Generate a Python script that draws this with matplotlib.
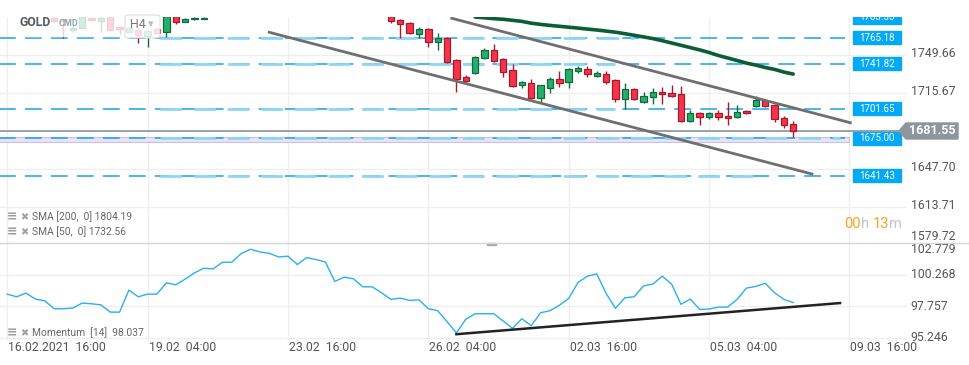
import matplotlib.pyplot as plt
from matplotlib.patches import Rectangle, FancyBboxPatch, Polygon
from matplotlib.lines import Line2D
from matplotlib.transforms import blended_transform_factory

plt.rcParams['font.family'] = ['Roboto', 'DejaVu Sans']

# H4 bars, bar 0 = 16.02.2021 16:00
date_ticks = [0, 15, 30, 45, 60, 75, 90]
date_labels = ['16.02.2021  16:00', '19.02  04:00', '23.02  16:00', '26.02  04:00',
               '02.03  16:00', '05.03  04:00', '09.03  16:00']

# visible candles (the rest sit above the top of the chart)
bars = list(range(5, 22)) + list(range(41, 85))
opens = [1783.00, 1781.92, 1772.06, 1773.85, 1782.81, 1780.13, 1784.50, 1774.75, 1770.27,
         1772.06, 1766.68, 1772.96, 1770.50, 1785.00, 1779.23, 1781.50, 1782.00,
         1785.00, 1781.02, 1778.33, 1768.48, 1772.96, 1761.31, 1764.89, 1745.18, 1729.95,
         1733.53, 1746.97, 1754.14, 1746.08, 1736.22, 1722.78, 1724.57, 1711.13, 1720.09,
         1728.16, 1725.47, 1735.32, 1737.12, 1730.84, 1732.64, 1727.26, 1710.24, 1719.20,
         1707.55, 1712.03, 1716.51, 1715.61, 1714.72, 1690.52, 1697.69, 1694.11, 1697.69,
         1695.00, 1694.11, 1699.48, 1703.96, 1708.44, 1704.86, 1693.21, 1687.84]
highs = [1784.50, 1783.00, 1776.54, 1786.00, 1784.00, 1784.00, 1785.00, 1776.00, 1775.00,
         1773.85, 1772.96, 1773.85, 1786.00, 1786.00, 1782.50, 1784.00, 1784.00,
         1786.00, 1782.00, 1779.00, 1774.75, 1773.85, 1769.37, 1765.79, 1745.90, 1731.74,
         1748.50, 1755.93, 1759.52, 1746.97, 1741.60, 1726.36, 1728.16, 1723.20, 1729.95,
         1735.32, 1738.01, 1739.80, 1739.80, 1735.32, 1735.32, 1728.00, 1724.57, 1719.80,
         1716.51, 1720.09, 1720.99, 1722.78, 1721.88, 1700.38, 1698.30, 1698.59, 1700.38,
         1707.55, 1704.86, 1700.00, 1712.92, 1709.00, 1705.40, 1695.00, 1690.52]
lows = [1779.20, 1764.89, 1770.27, 1773.85, 1780.50, 1770.27, 1771.50, 1768.48, 1769.50,
        1760.41, 1756.83, 1768.48, 1766.00, 1777.44, 1778.80, 1781.00, 1781.50,
        1778.33, 1764.89, 1768.90, 1764.89, 1756.83, 1754.14, 1742.90, 1716.51, 1725.90,
        1733.00, 1746.50, 1743.39, 1729.95, 1720.99, 1720.09, 1710.24, 1707.55, 1715.61,
        1720.99, 1720.09, 1733.53, 1729.95, 1729.95, 1723.68, 1707.55, 1701.28, 1709.70,
        1707.00, 1705.76, 1705.76, 1712.03, 1690.00, 1690.00, 1686.94, 1692.32, 1691.42,
        1686.94, 1693.60, 1697.20, 1703.50, 1703.50, 1689.63, 1684.25, 1676.19]
closes = [1780.13, 1780.13, 1773.85, 1785.00, 1781.02, 1782.81, 1772.06, 1772.96, 1773.85,
          1767.58, 1771.17, 1769.37, 1784.50, 1779.23, 1781.92, 1782.80, 1782.81,
          1780.13, 1777.44, 1769.37, 1772.96, 1761.31, 1764.89, 1743.39, 1728.16, 1726.36,
          1747.87, 1754.14, 1744.28, 1734.43, 1721.88, 1725.47, 1711.13, 1722.78, 1728.16,
          1724.57, 1737.12, 1738.01, 1732.64, 1733.53, 1725.47, 1710.24, 1719.20, 1710.24,
          1712.92, 1716.51, 1714.72, 1712.92, 1690.52, 1697.69, 1694.11, 1697.69, 1694.11,
          1693.21, 1698.59, 1697.69, 1709.34, 1703.96, 1692.32, 1686.94, 1681.55]

sma50_start = 50
sma50 = [1783.70, 1782.99, 1782.19, 1781.65, 1780.75, 1779.77, 1778.15, 1777.08, 1776.18,
         1775.38, 1774.57, 1773.76, 1772.87, 1772.06, 1771.08, 1770.09, 1768.75, 1767.31,
         1765.88, 1764.36, 1762.47, 1760.41, 1758.35, 1756.29, 1754.23, 1751.90, 1749.21,
         1746.97, 1744.73, 1742.40, 1740.61, 1738.46, 1736.76, 1734.34, 1732.56]

momentum = [98.71, 98.50, 98.79, 98.32, 98.18, 97.55, 97.55, 97.60, 98.00, 97.94,
            97.86, 97.28, 97.28, 99.03, 98.50, 98.71, 98.71, 99.61, 99.45, 99.90,
            100.40, 100.77, 100.72, 101.25, 101.25, 101.94, 102.28, 102.07, 101.96, 101.67,
            101.73, 101.07, 101.62, 101.46, 101.27, 99.72, 100.06, 99.93, 99.29, 99.29,
            98.82, 98.29, 98.39, 98.21, 98.26, 97.55, 97.39, 96.52, 95.62, 96.71,
            97.15, 97.15, 97.15, 96.57, 95.99, 96.75, 96.20, 97.23, 97.39, 97.82,
            98.37, 99.64, 100.14, 100.32, 98.77, 97.58, 98.42, 98.50, 99.37, 99.51,
            100.14, 99.51, 97.90, 98.32, 97.50, 97.52, 97.68, 97.68, 98.29, 99.19,
            99.32, 99.58, 98.82, 98.29, 98.04]

# drawn trendlines (bar, value)
channel_upper = ([47.5, 90.1], [1782.55, 1688.98])
channel_lower = ([28.0, 86.0], [1770.0, 1643.03])
mom_trend = ([48, 89], [95.52, 98.00])

levels = [1783.33, 1765.18, 1741.82, 1701.65, 1675.00, 1641.43]
level_light_end = [0, 67, 65, 65, 89, 80]
zone = (1671.43, 1676.19)
last_price = 1681.55

price_grid = [1613.71, 1647.70, 1681.68, 1715.67, 1749.66]
price_labels = [1579.72, 1613.71, 1647.70, 1715.67, 1749.66]
mom_grid = [95.246, 97.757, 100.268, 102.779]

W, H = 970, 365
fig = plt.figure(figsize=(W / 100, H / 100), dpi=100)


def fx(x):
    return x / W


def fy(y):
    return 1 - y / H


ax = fig.add_axes([0, fy(243), fx(907), (243 - 17) / H])
axm = fig.add_axes([0, fy(341), fx(907), (341 - 243) / H])
for a in (ax, axm):
    a.set_xlim(-0.78, 96.16)
    a.axis('off')
ax.set_ylim(1581.2, 1783.7)
axm.set_ylim(94.98, 102.78)

grid_c = '#efefef'
for a in (ax, axm):
    for t in date_ticks:
        a.axvline(t, color=grid_c, lw=1, zorder=0)
for g in price_grid:
    ax.axhline(g, color=grid_c, lw=1, zorder=0)
for g in mom_grid:
    axm.axhline(g, color=grid_c, lw=1, zorder=0)

# support zone and levels
ax.fill_between([-1, 90], zone[0], zone[1], color='#e9e3f6', ec='#cbbfe6', lw=0.8, zorder=1)
top = ax.get_ylim()[1]
for lv, le in zip(levels, level_light_end):
    if lv < top - 1:
        ax.plot([-1, 89.5], [lv, lv], color='#18a3ea', lw=1.1, dashes=(11, 6), zorder=2)
    if le > 16:
        ax.plot([16.3, le], [lv, lv], color='#8fd5f8', lw=2.0, dashes=(7.8, 4.3), zorder=2)
    ax.add_patch(Rectangle((90.39, lv - 5.8), 5.13, 11.6, color='#03a9f4', zorder=6))
    ax.text(92.95, lv, f'{lv:.2f}', color='white', fontsize=7, ha='center', va='center',
            zorder=7, clip_on=True)

ax.axhline(last_price, color='#8c9498', lw=1.2, zorder=3)

# candles
for b, o, h, l, c in zip(bars, opens, highs, lows, closes):
    up = c >= o
    fc = '#27ae6a' if up else '#f5344c'
    ec = '#0f6b3f' if up else '#a8182b'
    ax.plot([b, b], [l, h], color=ec, lw=1, zorder=4, solid_capstyle='butt')
    ax.add_patch(Rectangle((b - 0.34, min(o, c)), 0.68, max(abs(c - o), 0.6),
                           fc=fc, ec=ec, lw=0.9, zorder=5))

sma_x = list(range(sma50_start, sma50_start + len(sma50)))
ax.plot(sma_x, sma50, color='#0b5d35', lw=2.6, zorder=5, solid_capstyle='round')
ax.plot(*channel_upper, color='#6f6f6f', lw=2.0, zorder=5)
ax.plot(*channel_lower, color='#6f6f6f', lw=2.0, zorder=5)

# momentum panel
axm.plot(range(len(momentum)), momentum, color='#29b0f0', lw=1.0, zorder=3)
axm.plot(*mom_trend, color='#222222', lw=1.8, zorder=4)

# right axis labels
tr = blended_transform_factory(ax.transAxes, ax.transData)
for v in price_labels:
    if v < ax.get_ylim()[0]:
        ax.text(1.004, ax.get_ylim()[0], f'{v:.2f}', transform=tr, fontsize=8.8,
                color='#555555', va='bottom', ha='left', clip_on=False)
    else:
        ax.text(1.004, v + 1.3, f'{v:.2f}', transform=tr, fontsize=8.8,
                color='#555555', va='center', ha='left', clip_on=False)
trm = blended_transform_factory(axm.transAxes, axm.transData)
for v in mom_grid:
    va = 'top' if v >= axm.get_ylim()[1] - 0.1 else 'center'
    axm.text(1.004, v, f'{v:.3f}', transform=trm, fontsize=8.8, color='#555555',
             va=va, ha='left', clip_on=False)

# last price tag
fig.patches.append(Polygon([(fx(899), fy(131)), (fx(906), fy(123)), (fx(958), fy(123)),
                            (fx(958), fy(139)), (fx(906), fy(139))], closed=True,
                           transform=fig.transFigure, color='#8d969c'))
fig.text(fx(932), fy(131), f'{last_price:.2f}', color='white', fontsize=9,
         fontweight='bold', ha='center', va='center')

# date labels
trd = blended_transform_factory(axm.transData, axm.transAxes)
for t, lab in zip(date_ticks, date_labels):
    axm.text(t + 0.1, -0.065, lab, transform=trd, fontsize=8.8, color='#555555',
             ha='left', va='center', clip_on=False)

# panel divider and small marker on it
fig.lines.append(Line2D([0, 1], [fy(243), fy(243)], transform=fig.transFigure,
                        color='#d6d6d6', lw=1))
fig.patches.append(Rectangle((fx(487), fy(245)), fx(9), 2 / H, transform=fig.transFigure,
                             color='#a8a8a8'))

# indicator legends
for y, txt in [(217, 'SMA [200,  0] 1804.19'), (232, 'SMA [50,  0] 1732.56'),
               (333, 'Momentum  [14]  98.037')]:
    fig.text(fx(7), fy(y), '≡', fontsize=9, color='#9a9a9a', va='center', ha='left',
             fontweight='bold')
    fig.text(fx(20), fy(y), '✖', fontsize=7, color='#a0a0a0', va='center', ha='left')
    fig.text(fx(32), fy(y), txt, fontsize=7.4, color='#666666', va='center', ha='left')

# countdown
for x, s, c in [(844, '00', '#f7a21b'), (861, 'h', '#c4c4c4'),
                (873, '13', '#f7a21b'), (889, 'm', '#c4c4c4')]:
    fig.text(fx(x), fy(224), s, fontsize=10.5, color=c, va='center', ha='left')

# symbol header
fig.patches.append(Rectangle((fx(18), fy(36)), fx(106), 28 / H, transform=fig.transFigure,
                             color='white', alpha=0.8))
fig.patches.append(FancyBboxPatch((fx(125), fy(38)), fx(35), 23 / H,
                                  boxstyle='round,pad=0,rounding_size=0.004',
                                  transform=fig.transFigure, fc='white', alpha=0.85,
                                  ec='#d8d8d8', lw=0.8))
fig.text(fx(20), fy(23), 'GOLD', fontsize=8.8, fontweight='bold', color='#525c63',
         va='center', ha='left')
fig.text(fx(59), fy(24), 'CMD', fontsize=6.5, fontweight='bold', color='#94a6b4',
         va='center', ha='left')
fig.text(fx(130), fy(24), 'H4', fontsize=9, color='#7a7a7a', va='center', ha='left')
fig.text(fx(148), fy(24), '▾', fontsize=8, color='#bbbbbb', va='center', ha='left')

fig.savefig('out.png', dpi=100)
